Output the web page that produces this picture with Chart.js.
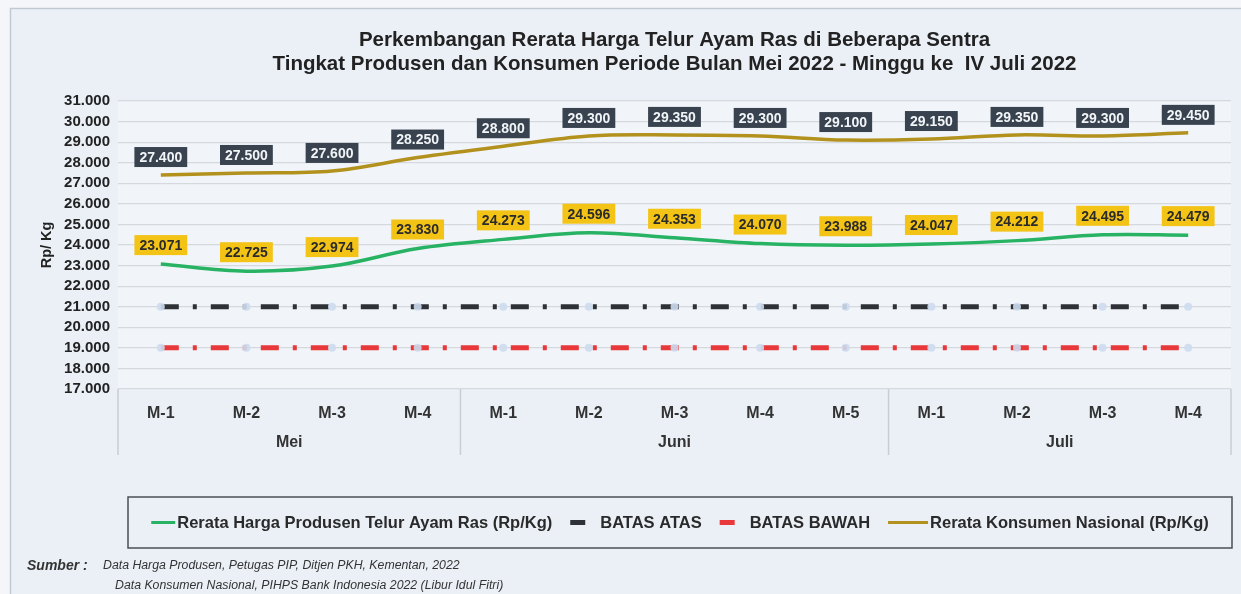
<!DOCTYPE html>
<html>
<head>
<meta charset="utf-8">
<script src="https://cdn.jsdelivr.net/npm/chart.js@4.4.1/dist/chart.umd.min.js"></script>
<style>
  html, body { margin: 0; padding: 0; background: #f4f6f9; }
  #wrap { width: 1241px; height: 594px; position: relative; }
</style>
</head>
<body>
<div id="wrap"><canvas id="chart" width="1241" height="594"></canvas></div>
<script>
const weekLabels = ['M-1', 'M-2', 'M-3', 'M-4', 'M-1', 'M-2', 'M-3', 'M-4', 'M-5', 'M-1', 'M-2', 'M-3', 'M-4'];
const monthNames = ['Mei', 'Juni', 'Juli'];
const weeksPerMonth = [4, 5, 4];

const hargaProdusen = [23071, 22725, 22974, 23830, 24273, 24596, 24353, 24070, 23988, 24047, 24212, 24495, 24479];
const konsumenNasional = [27400, 27500, 27600, 28250, 28800, 29300, 29350, 29300, 29100, 29150, 29350, 29300, 29450];
const batasAtas = [21000, 21000, 21000, 21000, 21000, 21000, 21000, 21000, 21000, 21000, 21000, 21000, 21000];
const batasBawah = [19000, 19000, 19000, 19000, 19000, 19000, 19000, 19000, 19000, 19000, 19000, 19000, 19000];

const titleLines = [
  'Perkembangan Rerata Harga Telur Ayam Ras di Beberapa Sentra',
  'Tingkat Produsen dan Konsumen Periode Bulan Mei 2022 - Minggu ke  IV Juli 2022'
];
const sumberLines = [
  'Data Harga Produsen, Petugas PIP, Ditjen PKH, Kementan, 2022',
  'Data Konsumen Nasional, PIHPS Bank Indonesia 2022 (Libur Idul Fitri)'
];

const FONT = '"Liberation Sans", Arial, sans-serif';

// angka pakai titik sebagai pemisah ribuan
function fmt(v) {
  return String(v).replace(/\B(?=(\d{3})+(?!\d))/g, '.');
}

const framePlugin = {
  id: 'frame',
  beforeDraw(chart) {
    const ctx = chart.ctx;
    const a = chart.chartArea;
    ctx.save();
    ctx.fillStyle = '#ebf0f7';
    ctx.fillRect(10, 8, chart.width, chart.height);
    ctx.strokeStyle = '#c3c9d1';
    ctx.lineWidth = 1.5;
    ctx.strokeRect(10.5, 8.5, chart.width + 10, chart.height + 10);
    ctx.fillStyle = '#f1f5fa';
    ctx.fillRect(a.left, a.top, a.right - a.left, a.bottom - a.top);
    ctx.restore();
  }
};

// kotak label nilai di atas titik
const valueLabelPlugin = {
  id: 'valueLabels',
  afterDatasetsDraw(chart) {
    const ctx = chart.ctx;
    chart.data.datasets.forEach((ds, i) => {
      if (!ds.boxColor) return;
      const meta = chart.getDatasetMeta(i);
      ctx.save();
      ctx.font = 'bold 14px ' + FONT;
      ctx.textAlign = 'center';
      ctx.textBaseline = 'middle';
      meta.data.forEach((pt, j) => {
        const txt = fmt(ds.data[j]);
        const w = ctx.measureText(txt).width + 10;
        const h = 20;
        const cy = pt.y - ds.boxOffset;
        ctx.fillStyle = ds.boxColor;
        ctx.fillRect(pt.x - w / 2, cy - h / 2, w, h);
        ctx.fillStyle = ds.boxText;
        ctx.fillText(txt, pt.x, cy + 1);
      });
      ctx.restore();
    });
  }
};

// label bulan + garis pemisah di bawah sumbu x
const monthAxisPlugin = {
  id: 'monthAxis',
  afterDraw(chart) {
    const ctx = chart.ctx;
    const x = chart.scales.x;
    const a = chart.chartArea;
    const step = x.getPixelForValue(1) - x.getPixelForValue(0);
    ctx.save();
    ctx.strokeStyle = '#c9cdd3';
    ctx.lineWidth = 1.5;
    ctx.font = 'bold 16px ' + FONT;
    ctx.fillStyle = '#333';
    ctx.textAlign = 'center';
    ctx.textBaseline = 'middle';
    let start = 0;
    const edges = [];
    weeksPerMonth.forEach((n, m) => {
      const left = x.getPixelForValue(start) - step / 2;
      const right = x.getPixelForValue(start + n - 1) + step / 2;
      edges.push(left);
      if (m === weeksPerMonth.length - 1) edges.push(right);
      ctx.fillText(monthNames[m], (left + right) / 2, a.bottom + 54);
      start += n;
    });
    edges.forEach(e => {
      ctx.beginPath();
      ctx.moveTo(e, a.bottom);
      ctx.lineTo(e, a.bottom + 66);
      ctx.stroke();
    });
    ctx.restore();
  }
};

// legenda dalam kotak + sumber data
const legendPlugin = {
  id: 'boxLegend',
  afterDraw(chart) {
    const ctx = chart.ctx;
    const a = chart.chartArea;
    const top = 497, h = 51;
    const left = a.left + 10, right = a.right + 1;
    ctx.save();
    ctx.strokeStyle = '#4a4f55';
    ctx.lineWidth = 1.5;
    ctx.strokeRect(left, top, right - left, h);

    ctx.font = 'bold 16.5px ' + FONT;
    ctx.textBaseline = 'middle';
    ctx.textAlign = 'left';
    const cy = top + h / 2;
    const items = chart.data.datasets.map(ds => {
      const dashed = ds.borderDash && ds.borderDash.length;
      return {
        ds, dashed,
        sym: dashed ? 15 : (ds.legendSym || 24),
        gap: dashed ? 15 : 2,
        tw: ctx.measureText(ds.label).width
      };
    });
    const spacing = 18;
    const total = items.reduce((s, it) => s + it.sym + it.gap + it.tw, 0) + spacing * (items.length - 1);
    let xx = (left + right) / 2 - total / 2;
    items.forEach(it => {
      ctx.strokeStyle = it.ds.borderColor;
      ctx.lineWidth = it.dashed ? 5 : 3;
      ctx.beginPath();
      ctx.moveTo(xx, cy);
      ctx.lineTo(xx + it.sym, cy);
      ctx.stroke();
      xx += it.sym + it.gap;
      ctx.fillStyle = '#2a2a2a';
      ctx.fillText(it.ds.label, xx, cy + 1);
      xx += it.tw + spacing;
    });

    ctx.fillStyle = '#333';
    ctx.font = 'italic bold 14px ' + FONT;
    ctx.fillText('Sumber :', 27, 566);
    ctx.font = 'italic 12.3px ' + FONT;
    ctx.fillText(sumberLines[0], 103, 566);
    ctx.fillText(sumberLines[1], 115, 586);
    ctx.restore();
  }
};

const ctx = document.getElementById('chart').getContext('2d');
new Chart(ctx, {
  type: 'line',
  data: {
    labels: weekLabels,
    datasets: [
      {
        label: 'Rerata Harga Produsen Telur Ayam Ras (Rp/Kg)',
        data: hargaProdusen,
        borderColor: '#27b363',
        backgroundColor: '#27b363',
        borderWidth: 3.5,
        tension: 0.35,
        pointRadius: 0,
        boxColor: '#f3c316',
        boxText: '#2b2b2b',
        boxOffset: 19,
        order: 1
      },
      {
        label: 'BATAS ATAS',
        data: batasAtas,
        borderColor: '#2e3236',
        backgroundColor: '#2e3236',
        borderWidth: 5,
        borderDash: [18, 14, 4, 14],
        pointRadius: 4,
        pointBorderWidth: 0,
        pointBackgroundColor: 'rgba(205,220,238,0.9)',
        order: 3
      },
      {
        label: 'BATAS BAWAH',
        data: batasBawah,
        borderColor: '#e8383a',
        backgroundColor: '#e8383a',
        borderWidth: 5,
        borderDash: [18, 14, 4, 14],
        pointRadius: 4,
        pointBorderWidth: 0,
        pointBackgroundColor: 'rgba(205,220,238,0.9)',
        order: 4
      },
      {
        label: 'Rerata Konsumen Nasional (Rp/Kg)',
        data: konsumenNasional,
        borderColor: '#b2911d',
        backgroundColor: '#b2911d',
        borderWidth: 3.5,
        tension: 0.35,
        pointRadius: 0,
        legendSym: 40,
        boxColor: '#38434f',
        boxText: '#f2f5f8',
        boxOffset: 18,
        order: 2
      }
    ]
  },
  options: {
    responsive: false,
    animation: false,
    layout: { padding: { left: 28, right: 10, top: 10, bottom: 97 } },
    plugins: {
      legend: { display: false },
      tooltip: { enabled: false },
      title: {
        display: true,
        fullSize: false,
        text: titleLines,
        color: '#222',
        font: { family: FONT, size: 20.5, weight: 'bold', lineHeight: 1.17 },
        padding: { top: 18, bottom: 25 }
      }
    },
    scales: {
      x: {
        offset: true,
        grid: { display: false },
        border: { display: false },
        ticks: {
          color: '#333',
          padding: 7,
          font: { family: FONT, size: 16, weight: 'bold' }
        },
        afterFit(s) { s.height = 108; }
      },
      y: {
        min: 17000,
        max: 31000,
        grid: { color: '#d5d9de', lineWidth: 1.2, drawTicks: false },
        border: { display: false },
        ticks: {
          stepSize: 1000,
          autoSkip: false,
          padding: 8,
          color: '#222',
          font: { family: FONT, size: 15, weight: 'bold', lineHeight: 1 },
          callback: v => fmt(v)
        },
        title: {
          display: true,
          text: 'Rp/ Kg',
          color: '#222',
          font: { family: FONT, size: 14.5, weight: 'bold' },
          padding: { top: 10, bottom: 0 }
        },
        afterFit(s) { s.width = 90; }
      }
    }
  },
  plugins: [framePlugin, valueLabelPlugin, monthAxisPlugin, legendPlugin]
});
</script>
</body>
</html>
